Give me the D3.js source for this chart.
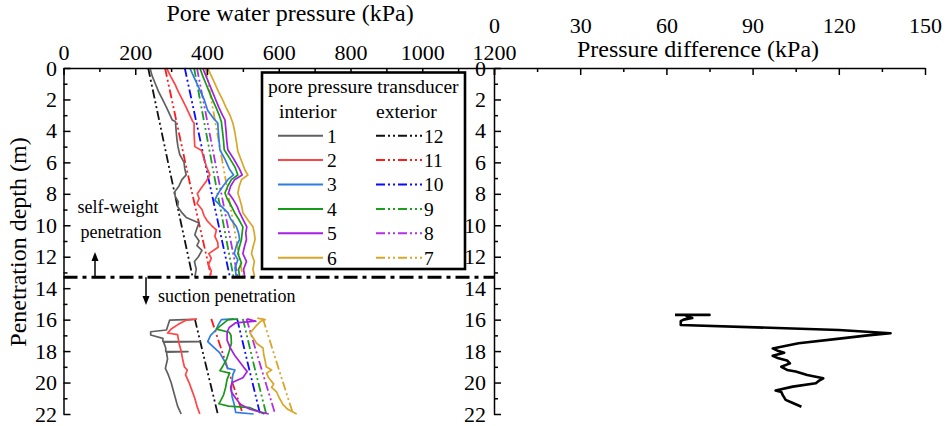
<!DOCTYPE html>
<html>
<head>
<meta charset="utf-8">
<script src="https://cdn.jsdelivr.net/npm/d3@7"></script>
<style>
    body { margin: 0; background: #fff; }
    svg { display: block; }
</style>
</head>
<body>
<svg id="chart" width="951" height="426"></svg>
<script>
// [depth (m), pore pressure (kPa)], null separates self-weight and suction stages
var pt1 = [[0,241],[0.5,247],[1,256],[1.5,265],[2,276],[2.5,287],[3,297],[3.3,303],[3.4,312],[4,314],[4.5,316],[5,319],[5.5,324],[6,336],[6.4,338],[6.8,342],[7.1,330],[7.5,322],[7.9,309],[8.2,312],[8.5,320],[8.8,318],[9.2,330],[9.5,342],[9.85,378],[10.2,372],[10.6,366],[11,378],[11.3,372],[11.6,386],[12,376],[12.3,365],[12.8,370],[13.3,366],
    null,
    [15.98,362],[16.03,296],[16.66,287],[16.77,243],[16.98,243],[17.19,277],[17.38,277],[17.4,380],[17.43,279],[17.8,285],[18.02,285],[18.04,347],[18.07,287],[18.5,290],[18.9,286],[19.1,284],[19.5,292],[20,300],[20.5,306],[21,312],[21.5,318],[22,328]];
var pt2 = [[0,287],[0.5,298],[1,310],[1.5,320],[2,331],[2.5,342],[3,352],[3.4,360],[3.5,364],[4.2,364],[5,366],[5.25,385],[5.8,392],[6.3,399],[6.8,408],[7.2,398],[7.6,385],[8,373],[8.3,378],[8.6,372],[9,386],[9.4,392],[9.7,400],[10,412],[10.3,426],[10.7,422],[11.1,430],[11.4,431],[11.8,405],[12.1,412],[12.5,404],[12.9,412],[13.3,408],
    null,
    [15.95,372],[16.05,340],[16.3,320],[16.6,300],[16.85,290],[16.95,318],[17.5,322],[18,328],[18.5,332],[19,337],[19.2,345],[19.5,340],[20,350],[20.5,358],[21,366],[21.5,372],[22,380]];
var pt3 = [[0,352],[0.5,362],[1,372],[1.5,382],[2,392],[2.7,402],[3.2,418],[3.5,430],[4.2,432],[5.2,436],[5.8,450],[6.4,462],[6.8,474],[7.1,458],[7.5,445],[7.8,436],[8.1,428],[8.4,422],[8.8,440],[9.2,458],[9.6,466],[10.1,482],[10.5,488],[10.9,491],[11.3,482],[11.8,476],[12.2,486],[12.7,478],[13.3,482],
    null,
    [15.95,475],[16.0,440],[16.3,432],[16.66,425],[17.0,410],[17.4,402],[17.7,416],[18.1,435],[18.6,448],[19.1,458],[19.2,478],[19.5,472],[19.9,470],[20.4,468],[20.9,470],[21.4,476],[21.9,480],[22,530]];
var pt4 = [[0,380],[0.5,388],[1,397],[1.5,406],[2,415],[2.5,425],[3,434],[3.4,440],[4,443],[4.6,446],[5.2,448],[5.7,462],[6.3,478],[6.8,486],[7.1,468],[7.5,458],[7.95,450],[8.3,456],[8.6,464],[9.2,477],[9.6,488],[10.1,500],[10.5,498],[10.9,496],[11.4,490],[11.8,486],[12.4,496],[12.8,488],[13.3,491],
    null,
    [15.95,486],[16.02,458],[16.6,426],[16.8,462],[17.0,467],[17.5,468],[18,462],[18.5,455],[19,443],[19.25,436],[19.4,463],[19.8,456],[20.3,452],[20.8,446],[21.2,437],[21.35,433],[21.5,460],[21.6,520],[21.8,540],[22,560]];
var pt5 = [[0,388],[0.5,397],[1,406],[1.5,415],[2,424],[2.5,433],[3,443],[3.3,450],[4,453],[4.6,455],[5.2,458],[5.8,475],[6.4,490],[6.8,498],[7.1,477],[7.5,466],[7.95,460],[8.4,474],[8.8,484],[9.2,491],[9.7,502],[10.1,511],[10.5,508],[10.9,510],[11.4,504],[11.8,500],[12.3,510],[12.8,502],[13.3,505],
    null,
    [15.95,512],[16.1,536],[16.2,480],[16.5,462],[16.8,456],[17.3,456],[17.8,465],[18.3,478],[18.8,495],[19.1,505],[19.3,512],[19.7,500],[20,470],[20.3,466],[20.6,468],[21,480],[21.4,494],[21.7,520],[22,572]];
var pt6 = [[0,402],[0.5,412],[1,422],[1.5,432],[2,443],[2.5,453],[3,464],[3.5,472],[4,477],[4.7,482],[5.3,486],[5.9,496],[6.5,506],[6.8,514],[7.1,496],[7.5,490],[7.95,486],[8.4,492],[8.8,497],[9.2,500],[9.7,515],[10.1,528],[10.5,532],[10.9,534],[11.4,528],[11.8,524],[12.3,532],[12.8,528],[13.3,533],
    null,
    [15.9,540],[16.0,562],[16.1,550],[16.4,537],[16.85,520],[17.2,530],[17.5,538],[17.8,556],[18.2,558],[18.6,562],[19.0,565],[19.2,580],[19.4,566],[19.7,572],[20.1,586],[20.3,580],[20.6,594],[21,602],[21.4,612],[21.7,625],[22,650]];

var pt12 = [[0,236],[6.5,296],[13.3,360], null, [15.95,366],[19,398],[22,430]];
var pt11 = [[0,283],[6.6,345],[13.3,412], null, [15.95,412],[19,456],[22,500]];
var pt10 = [[0,338],[6.6,400],[13.3,464], null, [15.95,484],[19,516],[22,548]];
var pt9 = [[0,364],[6.6,418],[13.3,474], null, [15.95,500],[19,532],[22,565]];
var pt8 = [[0,372],[6.6,428],[13.3,486], null, [15.95,510],[19,550],[22,590]];
var pt7 = [[0,396],[6.6,448],[13.3,500], null, [15.95,556],[19,598],[22,640]];

// [depth (m), pressure difference (kPa)]
var pressureDiff = [[15.7,63],[15.7,75],[15.7,68],[15.8,67],[15.9,69],[16.0,66],[16.1,65],[16.34,65],[16.66,120],[16.87,138],[17.0,130],[17.19,121],[17.5,106],[17.72,100],[17.83,97],[18.0,99],[18.1,101],[18.3,97],[18.46,99],[18.6,102],[18.78,103],[19.0,100],[19.2,102],[19.3,105],[19.52,109],[19.73,114.6],[19.9,113],[20.05,112],[20.26,104],[20.5,98],[20.6,100],[20.8,100.5],[21.1,101.5],[21.3,104],[21.54,107]];

var interiorSeries = [pt1, pt2, pt3, pt4, pt5, pt6];
var exteriorSeries = [pt12, pt11, pt10, pt9, pt8, pt7];
var interiorLabels = ["1", "2", "3", "4", "5", "6"];
var exteriorLabels = ["12", "11", "10", "9", "8", "7"];
var interiorColors = ["#606060", "#ff4545", "#2f7de1", "#179a17", "#a61fe0", "#d9a62a"];
var exteriorColors = ["#111111", "#ff1a1a", "#0a0aff", "#1e9e1e", "#b52ee8", "#d9a62a"];

var pressureTicks = [0, 200, 400, 600, 800, 1000, 1200];
var diffTicks = [0, 30, 60, 90, 120, 150];
var depthTicks = [0, 2, 4, 6, 8, 10, 12, 14, 16, 18, 20, 22];
var stageDepth = 13.3;

var FONT = '"Liberation Serif", "Times New Roman", serif';
var svg = d3.select("#chart");

var xP = d3.scaleLinear().domain([0, 1200]).range([63.5, 494]);
var xD = d3.scaleLinear().domain([0, 150]).range([494, 925]);
var y = d3.scaleLinear().domain([0, 22]).range([68, 414]);

function styleAxis(g) {
    g.attr("font-family", FONT).attr("font-size", 22);
    g.selectAll("path, line").attr("stroke-width", 1.5).attr("stroke", "#000");
    g.selectAll("text").attr("fill", "#000");
}

function minorAxis(axis, values) {
    return axis.tickValues(values).tickSize(-4).tickFormat("");
}

// pore pressure lines
var line = d3.line()
    .defined(function (d) { return d !== null; })
    .x(function (d) { return xP(d[1]); })
    .y(function (d) { return y(d[0]); });

for (var i = 0; i < exteriorSeries.length; i++) {
    svg.append("path")
        .attr("d", line(exteriorSeries[i]))
        .attr("fill", "none")
        .attr("stroke", exteriorColors[i])
        .attr("stroke-width", 1.8)
        .attr("stroke-dasharray", "9,3,2,3,2,3");
}
for (var i = 0; i < interiorSeries.length; i++) {
    svg.append("path")
        .attr("d", line(interiorSeries[i]))
        .attr("fill", "none")
        .attr("stroke", interiorColors[i])
        .attr("stroke-width", 1.7)
        .attr("stroke-linejoin", "round");
}

// pressure difference
var diffLine = d3.line()
    .x(function (d) { return xD(d[1]); })
    .y(function (d) { return y(d[0]); });
svg.append("path")
    .attr("d", diffLine(pressureDiff))
    .attr("fill", "none")
    .attr("stroke", "#000")
    .attr("stroke-width", 2.6)
    .attr("stroke-linejoin", "round");

// axes
svg.append("g").attr("transform", "translate(0,68)")
    .call(d3.axisTop(xP).tickValues(pressureTicks).tickFormat(d3.format("d"))
        .tickSizeInner(-7).tickSizeOuter(0).tickPadding(8))
    .call(styleAxis);
svg.append("g").attr("transform", "translate(0,68)")
    .call(minorAxis(d3.axisTop(xP), [100, 300, 500, 700, 900, 1100]))
    .call(styleAxis)
    .select(".domain").remove();

svg.append("g").attr("transform", "translate(0,68)")
    .call(d3.axisTop(xD).tickValues(diffTicks).tickFormat(d3.format("d"))
        .tickSizeInner(-7).tickSizeOuter(0).tickPadding(35))
    .call(styleAxis);
svg.append("g").attr("transform", "translate(0,68)")
    .call(minorAxis(d3.axisTop(xD), [15, 45, 75, 105, 135]))
    .call(styleAxis)
    .select(".domain").remove();

var minorDepth = [1, 3, 5, 7, 9, 11, 13, 15, 17, 19, 21];
[[63.5, 6.5], [494, 8]].forEach(function (a) {
    svg.append("g").attr("transform", "translate(" + a[0] + ",0)")
        .call(d3.axisLeft(y).tickValues(depthTicks).tickSizeInner(-7).tickSizeOuter(0).tickPadding(a[1]))
        .call(styleAxis);
    svg.append("g").attr("transform", "translate(" + a[0] + ",0)")
        .call(minorAxis(d3.axisLeft(y), minorDepth))
        .call(styleAxis)
        .select(".domain").remove();
});

// axis titles
svg.append("text")
    .attr("x", 290).attr("y", 21)
    .attr("text-anchor", "middle")
    .attr("font-family", FONT).attr("font-size", 24)
    .text("Pore water pressure (kPa)");
svg.append("text")
    .attr("x", 698).attr("y", 57)
    .attr("text-anchor", "middle")
    .attr("font-family", FONT).attr("font-size", 24)
    .text("Pressure difference (kPa)");
svg.append("text")
    .attr("transform", "translate(26,242) rotate(-90)")
    .attr("text-anchor", "middle")
    .attr("font-family", FONT).attr("font-size", 24)
    .text("Penetration depth (m)");

// stage boundary
var ys = y(stageDepth);
svg.append("line")
    .attr("x1", xP(0)).attr("x2", xP(1200))
    .attr("y1", ys).attr("y2", ys)
    .attr("stroke", "#000")
    .attr("stroke-width", 3)
    .attr("stroke-dasharray", "14,5,4,5");

function arrow(x, y0, y1) {
    var dir = y1 < y0 ? -1 : 1;
    svg.append("line")
        .attr("x1", x).attr("x2", x)
        .attr("y1", y0).attr("y2", y1 - dir * 6)
        .attr("stroke", "#000").attr("stroke-width", 1.5);
    svg.append("path")
        .attr("d", "M" + x + "," + y1 + "L" + (x - 3.5) + "," + (y1 - dir * 9) + "L" + (x + 3.5) + "," + (y1 - dir * 9) + "Z")
        .attr("fill", "#000");
}
arrow(95, ys, 252);
arrow(146, ys, 305);

svg.append("text").attr("x", 118).attr("y", 213)
    .attr("text-anchor", "middle")
    .attr("font-family", FONT).attr("font-size", 18)
    .text("self-weight");
svg.append("text").attr("x", 121).attr("y", 238)
    .attr("text-anchor", "middle")
    .attr("font-family", FONT).attr("font-size", 18)
    .text("penetration");
svg.append("text").attr("x", 158).attr("y", 302)
    .attr("font-family", FONT).attr("font-size", 18)
    .text("suction penetration");

// legend
var legend = svg.append("g")
    .attr("font-family", FONT).attr("font-size", 19.5);
legend.append("rect")
    .attr("x", 262).attr("y", 72.5)
    .attr("width", 203).attr("height", 196.5)
    .attr("fill", "#fff")
    .attr("stroke", "#000")
    .attr("stroke-width", 2.6);
legend.append("text").attr("x", 268).attr("y", 93).text("pore pressure transducer");
legend.append("text").attr("x", 279).attr("y", 118).text("interior");
legend.append("text").attr("x", 376).attr("y", 118).text("exterior");

for (var i = 0; i < interiorLabels.length; i++) {
    var ry = 135.7 + i * 24.4;
    legend.append("line")
        .attr("x1", 278).attr("x2", 323).attr("y1", ry).attr("y2", ry)
        .attr("stroke", interiorColors[i]).attr("stroke-width", 2);
    legend.append("text").attr("x", 327).attr("y", ry).attr("dy", "0.35em").text(interiorLabels[i]);
    legend.append("line")
        .attr("x1", 376).attr("x2", 422).attr("y1", ry).attr("y2", ry)
        .attr("stroke", exteriorColors[i]).attr("stroke-width", 2)
        .attr("stroke-dasharray", "9,3,2,3,2,3");
    legend.append("text").attr("x", 424).attr("y", ry).attr("dy", "0.35em").text(exteriorLabels[i]);
}
</script>
</body>
</html>
